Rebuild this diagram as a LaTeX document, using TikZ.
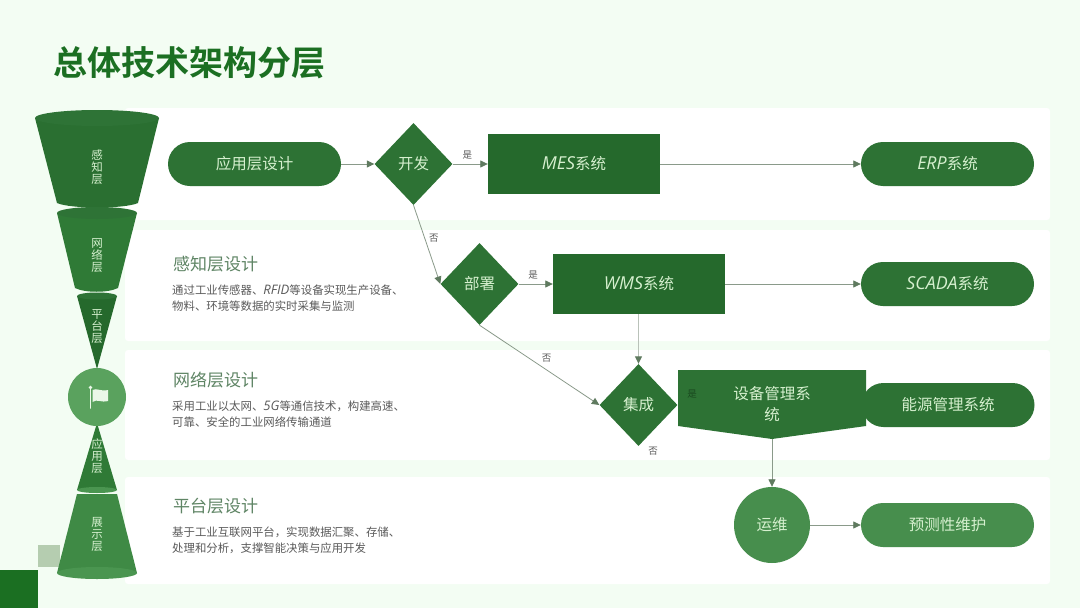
\documentclass[tikz,border=0pt]{standalone}
\usepackage{fontspec}
\setmainfont{Noto Sans CJK SC}[BoldFont={* Bold}]
\newfontfamily\latf{Open Sans}[Scale=1.15]
\usetikzlibrary{arrows.meta,shapes.geometric,calc}
\definecolor{bgc}{HTML}{F3FDF3}
\definecolor{dk}{HTML}{2D7234}
\definecolor{dkm}{HTML}{25692C}
\definecolor{titlec}{HTML}{1B6F22}
\definecolor{lt}{HTML}{D6F0CF}
\definecolor{linec}{HTML}{8A9A8A}
\definecolor{tipc}{HTML}{5F7A5F}
\definecolor{txtc}{HTML}{5A5A5A}
\definecolor{headc}{HTML}{5F8565}
\definecolor{sqc}{HTML}{B5CDB0}
\definecolor{fa}{HTML}{2A6F31}
\definecolor{fatop}{HTML}{2E7336}
\definecolor{fb}{HTML}{2F7A36}
\definecolor{fc}{HTML}{3F8A45}
\definecolor{fctop}{HTML}{4A9550}
\definecolor{circ}{HTML}{5AA25E}
\definecolor{flagc}{HTML}{EAF7E8}
\definecolor{softp}{HTML}{478E4D}
\newcommand{\ltn}[1]{{\latf\itshape #1}}
\tikzset{
 pill/.style={draw=none,fill=dk,rounded corners=22pt,minimum width=173pt,minimum height=44pt,text=lt,font=\fontsize{15.5}{18}\selectfont,inner sep=0pt},
 rbox/.style={draw=none,fill=dkm,minimum width=172pt,minimum height=60pt,text=lt,font=\fontsize{15.5}{18}\selectfont,inner sep=0pt},
 dia/.style={draw=none,fill=dk,diamond,aspect=0.94,minimum width=78pt,minimum height=82pt,text=lt,font=\fontsize{15.5}{18}\selectfont,inner sep=0pt},
 conn/.style={draw=linec,line width=0.8pt,-{Triangle[length=7.5pt,width=7pt,color=tipc]}},
 lab/.style={text=txtc,font=\fontsize{9.5}{11}\selectfont,inner sep=0pt},
 layerlab/.style={text=lt,font=\fontsize{11.5}{12}\selectfont,align=center,inner sep=0pt},
 band/.style={fill=white,draw=none,rounded corners=3pt},
 headt/.style={text=headc,font=\fontsize{17}{20}\selectfont,anchor=west,inner sep=0pt},
 bodyt/.style={text=txtc,font=\fontsize{11.4}{15.8}\selectfont,anchor=west,align=left,inner sep=0pt},
}
\begin{document}
\begin{tikzpicture}[x=1pt,y=-1pt]
\useasboundingbox (0,0) rectangle (1080,608);
\fill[bgc] (0,0) rectangle (1080,608);
\fill[band] (125,108) rectangle (1050,220);
\fill[band] (125,230) rectangle (1050,341);
\fill[band] (125,350) rectangle (1050,460);
\fill[band] (125,477) rectangle (1050,584);
\fill[titlec] (0,570) rectangle (38,608);
\fill[sqc] (38,545) rectangle (60,567);
\node[anchor=west,inner sep=0pt,text=titlec,font=\fontsize{34}{36}\selectfont\bfseries] (title) at (53,63) {总体技术架构分层};
% layer stack
\fill[fa] (35,118) -- (57,203) .. controls (70,209) and (125,209) .. (138,203) -- (159,118) -- cycle;
\fill[fatop] (97,118) ellipse [x radius=62,y radius=8];
\fill[fb] (57,213) -- (75,288) .. controls (85,293) and (108,293) .. (118,288) -- (137,213) -- cycle;
\fill[fatop] (97,213) ellipse [x radius=40,y radius=6];
\fill[dkm] (77,296) -- (97,369) -- (117,296) -- cycle;
\fill[fatop] (97,296) ellipse [x radius=20,y radius=3.5];
\fill[fb] (97,423) -- (77,490) -- (117,490) -- cycle;
\fill[fctop] (97,490) ellipse [x radius=20,y radius=3];
\fill[fc] (77,494) -- (57,573) -- (137,573) -- (117,494) -- cycle;
\fill[fctop] (97,573) ellipse [x radius=40,y radius=6];
\node[circle,fill=circ,minimum size=58pt,inner sep=0pt] (flagbg) at (97,397) {};
\draw[flagc,line width=1.6pt,line cap=round] (90.5,388) -- (90.5,408);
\fill[flagc] (90.5,387.5) circle (1.8pt);
\fill[flagc] (92.5,390) .. controls (97,387.5) and (101,392) .. (108,390) -- (108,401) .. controls (101,403) and (97,398.5) .. (92.5,402) -- cycle;
\node[layerlab] (l1) at (97,167) {感\\知\\层};
\node[layerlab] (l2) at (97,255.5) {网\\络\\层};
\node[layerlab] (l3) at (97,327) {平\\台\\层};
\node[layerlab] (l4) at (97,456.5) {应\\用\\层};
\node[layerlab] (l5) at (97,534) {展\\示\\层};
% texts
\node[headt] (h1) at (173,264) {感知层设计};
\node[bodyt] (b1) at (172,298) {通过工业传感器、\ltn{RFID}等设备实现生产设备、\\物料、环境等数据的实时采集与监测};
\node[headt] (h2) at (173,380) {网络层设计};
\node[bodyt] (b2) at (172,414.5) {采用工业以太网、\ltn{5G}等通信技术，构建高速、\\可靠、安全的工业网络传输通道};
\node[headt] (h3) at (173,506) {平台层设计};
\node[bodyt] (b3) at (172,540.5) {基于工业互联网平台，实现数据汇聚、存储、\\处理和分析，支撑智能决策与应用开发};
% flow nodes
\node[pill] (app) at (254.5,164) {应用层设计};
\node[dia] (dev) at (413.5,164) {开发};
\node[rbox] (mes) at (574,164) {{\latf\itshape MES}系统};
\node[pill] (erp) at (947.5,164) {{\latf\itshape ERP}系统};
\node[dia] (dep) at (479.5,284) {部署};
\node[rbox] (wms) at (639,284) {{\latf\itshape WMS}系统};
\node[pill] (scada) at (947.5,284) {{\latf\itshape SCADA}系统};
\node[dia] (int) at (638.5,405) {集成};
\coordinate (pt) at (772,439);
\fill[dk] (678,370) -- (866,370) -- (866,426) -- (pt) -- (678,426) -- cycle;
\node[text=lt,font=\fontsize{15.5}{21}\selectfont,align=center,inner sep=0pt] (mgmt) at (772,404) {设备管理系\\统};
\node[pill] (energy) at (948,405) {能源管理系统};
\node[circle,fill=softp,draw=none,minimum size=76pt,text=lt,font=\fontsize{15.5}{18}\selectfont,inner sep=0pt] (ops) at (772,525) {运维};
\node[pill,fill=softp] (pred) at (947.5,525) {预测性维护};
% connectors
\draw[conn] (app) -- (dev);
\draw[conn] (dev) -- node[lab,pos=0.42,above=4pt] {是} (mes);
\draw[conn] (mes) -- (erp);
\draw[conn] (dev.south) -- node[lab,pos=0.42,right=4pt] {否} (dep.west);
\draw[conn] (dep) -- node[lab,pos=0.42,above=4pt] {是} (wms);
\draw[conn] (wms) -- (scada);
\draw[conn,draw=linec!60!white,line width=1pt] (wms.south -| int.north) -- (int.north);
\draw[conn] (dep.south) -- node[lab,pos=0.50,above right=2pt] {否} (int.west);
\draw[conn] (pt) -- (ops);
\draw[conn] (ops) -- (pred);
\node[lab,text=dkm!70!black] (yes4) at (692,394) {是};
\node[lab] (no4) at (653,451) {否};
\end{tikzpicture}
\end{document}
